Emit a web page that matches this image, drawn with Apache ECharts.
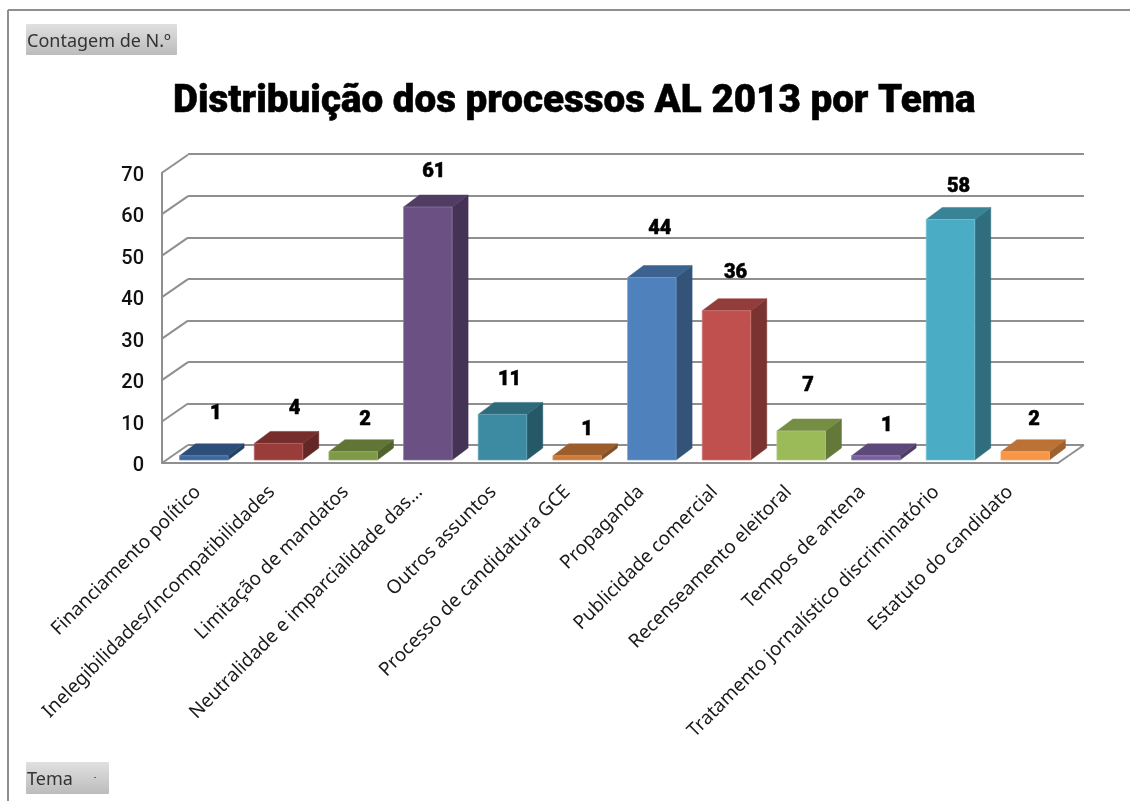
<!DOCTYPE html>
<html>
<head>
<meta charset="utf-8">
<style>html,body{margin:0;padding:0;background:#fff}#c{width:1130px;height:801px}</style>
<script src="https://cdn.jsdelivr.net/npm/echarts@6/dist/echarts.min.js"></script>
</head>
<body>
<div id="c"></div>
<script>
const categories = ["Financiamento político","Inelegibilidades/Incompatibilidades","Limitação de mandatos","Neutralidade e imparcialidade das...","Outros assuntos","Processo de candidatura GCE","Propaganda","Publicidade comercial","Recenseamento eleitoral","Tempos de antena","Tratamento jornalístico discriminatório","Estatuto do candidato"];
const values = [1,4,2,61,11,1,44,36,7,1,58,2];
const yTicks = [0,10,20,30,40,50,60,70];
const frontColors = ["#3A679F","#9A3D3A","#7F9A47","#6B5084","#3C8BA3","#CB7A38","#4F81BD","#C0504D","#9BBB59","#7A5FA0","#4BACC6","#F79646"];
const labelNudge = [[12,-42],[16,-34],[12,-32],[6,-35],[7,-34],[10,-26],[8,-49],[9,-38],[7,-45],[11,-30],[8,-32],[9,-32]];

const chart = echarts.init(document.getElementById('c'), null, {renderer:'canvas'});
const LINE = '#8f8f8f';
const WALL = [26,-18], BAR = [16,-12], SEAT = [4.5,-3];
const DIN = 'Roboto, "DejaVu Sans", sans-serif';
const UI = '"Noto Sans", "DejaVu Sans", sans-serif';

function shade(hex, k){
  const n = parseInt(hex.slice(1),16);
  const c = [n>>16&255, n>>8&255, n&255].map(x=>Math.round(x*k));
  return 'rgb('+c.join(',')+')';
}
function tint(hex, k){
  const n = parseInt(hex.slice(1),16);
  const c = [n>>16&255, n>>8&255, n&255].map(x=>Math.round(x+(255-x)*k));
  return 'rgb('+c.join(',')+')';
}
function poly(points, fill){
  return {type:'polygon', shape:{points}, style:{fill, stroke:fill, lineWidth:0.5}};
}
function renderBar(params, api){
  const i = api.value(0), v = api.value(1);
  const band = api.size([1,0])[0], w = band*0.65;
  const c0 = api.coord([i,0]), c1 = api.coord([i,v]);
  const x0 = c0[0]+SEAT[0]-w/2, x1 = x0+w, yb = c0[1]+SEAT[1], yt = c1[1]+SEAT[1];
  const dx = BAR[0], dy = BAR[1], col = frontColors[i];
  const n = labelNudge[i];
  return {type:'group', children:[
    poly([[x1,yb],[x1+dx,yb+dy],[x1+dx,yt+dy],[x1,yt]], shade(col,0.64)),
    poly([[x0,yt],[x1,yt],[x1+dx,yt+dy],[x0+dx,yt+dy]], shade(col,0.76)),
    {type:'rect', shape:{x:x0,y:yt,width:w,height:yb-yt}, style:{fill:col, stroke:tint(col,0.25), lineWidth:0.7}},
    {type:'text', style:{text:String(v), x:(x0+x1)/2+n[0], y:yt+n[1], align:'center', verticalAlign:'middle', fill:'#000', font:'900 20px '+DIN, stroke:'#000', lineWidth:0.5}}
  ]};
}
function renderDepth(params, api){
  const v = api.value(1);
  const band = api.size([1,0])[0];
  const p = api.coord([0,v]), xl = p[0]-band/2;
  const kids = [{type:'line', shape:{x1:xl,y1:p[1],x2:xl+WALL[0],y2:p[1]+WALL[1]}, style:{stroke:LINE,lineWidth:2}}];
  if(v===0){
    const q = api.coord([categories.length-1,0]), xr = q[0]+band/2;
    kids.push({type:'line', shape:{x1:xr,y1:q[1],x2:xr+WALL[0],y2:q[1]+WALL[1]}, style:{stroke:LINE,lineWidth:2}});
  }
  return {type:'group', children:kids};
}
function button(x,y,w,h,text){
  return [{type:'rect', shape:{x,y,width:w,height:h,r:1}, style:{fill:new echarts.graphic.LinearGradient(0,0,0,1,[{offset:0,color:'#e0e0e0'},{offset:1,color:'#bcbcbc'}])}},
    {type:'text', style:{text, x:x+1, y:y+h/2+2, verticalAlign:'middle', fill:'#333', font:'18px '+UI}}];
}
chart.setOption({
  animation:false,
  backgroundColor:'#fff',
  title:{text:'Distribuição dos processos AL 2013 por Tema', left:168, top:78,
    textStyle:{fontFamily:DIN, fontWeight:900, fontSize:38.6, color:'#000', textBorderColor:'#000', textBorderWidth:0.5}},
  graphic:[
    {type:'line', shape:{x1:8,y1:10,x2:1130,y2:10}, style:{stroke:'#8f8f8f',lineWidth:2}},
    {type:'line', shape:{x1:8,y1:10,x2:8,y2:801}, style:{stroke:'#8f8f8f',lineWidth:2}},
    ...button(26,24,151,31,'Contagem de N.º'),
    ...button(26,762,83,32,'Tema'),
    {type:'rect', shape:{x:94,y:777,width:2,height:1}, style:{fill:'#666'}}
  ],
  grid:[
    {left:162, top:172.7, width:896, height:290.3},
    {left:188, top:154.2, width:896, height:290.8},
    {left:161, top:175.7, width:886, height:290.3}
  ],
  xAxis:[
    {type:'category', gridIndex:0, data:categories, boundaryGap:true,
      axisLine:{show:true,lineStyle:{color:LINE,width:2}}, axisTick:{show:false}, axisLabel:{show:false}},
    {type:'category', gridIndex:1, data:categories, show:false},
    {type:'category', gridIndex:2, data:categories, boundaryGap:true,
      axisLine:{show:false}, axisTick:{show:false},
      axisLabel:{interval:0, rotate:45, margin:23, color:'#1a1a1a', fontFamily:UI, fontSize:19, hideOverlap:false}}
  ],
  yAxis:[
    {type:'value', gridIndex:0, min:0, max:70, interval:10,
      axisLine:{show:true,lineStyle:{color:LINE,width:2}}, axisTick:{show:false}, splitLine:{show:false}, axisLabel:{show:false}},
    {type:'value', gridIndex:1, min:0, max:70, interval:10,
      axisLine:{show:false}, axisTick:{show:false}, axisLabel:{show:false},
      splitLine:{show:true,lineStyle:{color:LINE,width:2}}},
    {type:'value', gridIndex:2, min:0, max:70, interval:10,
      axisLine:{show:false}, axisTick:{show:false}, splitLine:{show:false},
      axisLabel:{margin:17, color:'#111', fontFamily:DIN, fontWeight:500, fontSize:20, customValues:yTicks}}
  ],
  series:[
    {type:'custom', name:'depth', xAxisIndex:0, yAxisIndex:0, z:1, silent:true, clip:false, renderItem:renderDepth,
      encode:{x:0,y:1}, data:yTicks.map(t=>[0,t])},
    {type:'custom', name:'Contagem de N.º', xAxisIndex:0, yAxisIndex:0, z:3, clip:false, renderItem:renderBar,
      encode:{x:0,y:1}, data:values.map((v,i)=>[i,v])}
  ]
});
</script>
</body>
</html>
